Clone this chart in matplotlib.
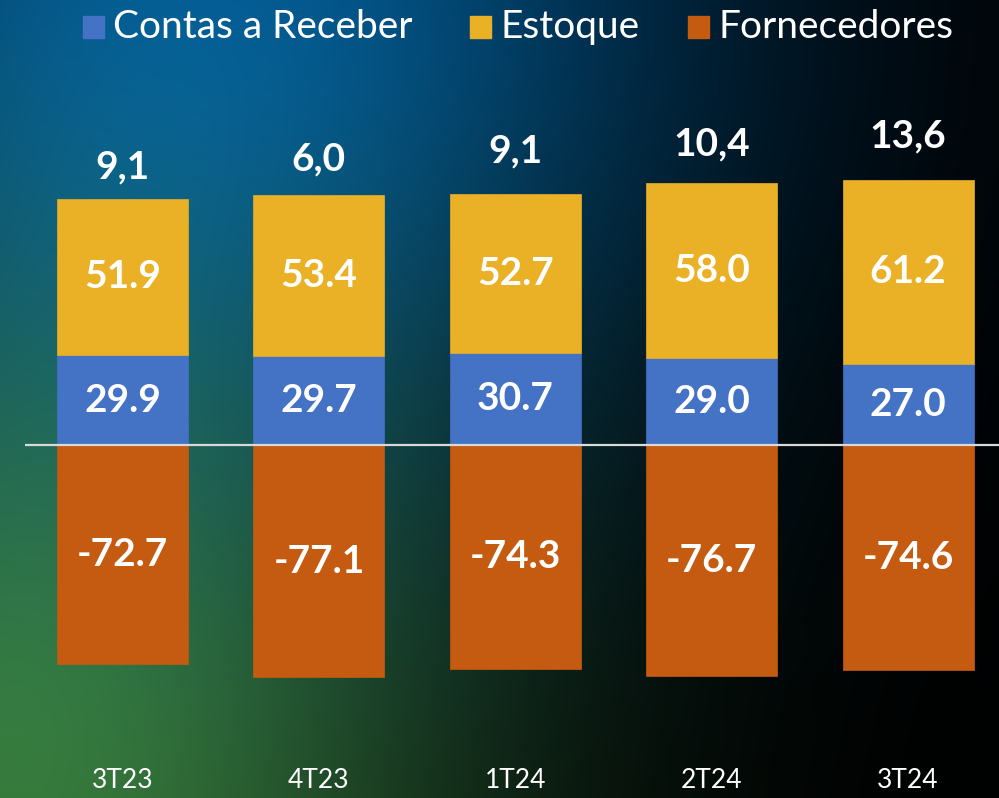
import numpy as np
import matplotlib
matplotlib.use("Agg")
import matplotlib.pyplot as plt
from matplotlib.patches import Rectangle

# ---- data ----
categories = ["3T23", "4T23", "1T24", "2T24", "3T24"]
contas_receber = [29.9, 29.7, 30.7, 29.0, 27.0]
estoque = [51.9, 53.4, 52.7, 58.0, 61.2]
fornecedores = [-72.7, -77.1, -74.3, -76.7, -74.6]
top_labels = ["9,1", "6,0", "9,1", "10,4", "13,6"]
series_names = ["Contas a Receber", "Estoque", "Fornecedores"]

# ---- style ----
c_blue = "#4472C4"
c_gold = "#EAB026"
c_orange = "#C55A11"
W, H, DPI = 999, 798, 100
plt.rcParams['font.family'] = ['Lato', 'DejaVu Sans']

fig = plt.figure(figsize=(W / DPI, H / DPI), dpi=DPI)

# background gradient
bg = fig.add_axes([0, 0, 1, 1], zorder=0)
u = np.linspace(0, 1, 400)[None, :]
v = np.linspace(0, 1, 320)[:, None]
fb = np.exp(-(((u - 0.2) / 0.5) ** 2 + (v / 0.6) ** 2))
fg = np.exp(-((u / 0.45) ** 2 + ((v - 1.0) / 0.65) ** 2))
img = (np.array([0, 85, 145])[None, None, :] * fb[..., None]
       + np.array([55, 118, 52])[None, None, :] * fg[..., None])
img = np.clip(img / 255.0, 0, 1)
bg.imshow(img, aspect='auto', extent=[0, 1, 1, 0], interpolation='bilinear')
bg.set_xlim(0, 1); bg.set_ylim(1, 0)
bg.axis('off')

ax = fig.add_axes([0, 0, 1, 1], zorder=1)
ax.patch.set_alpha(0)
ax.axis('off')
px_per_unit = 3.01
zero_px = 445
ax.set_ylim(-(H - zero_px) / px_per_unit, zero_px / px_per_unit)
ax.set_xlim(-0.624, 4.463)

x = np.arange(len(categories))
bw = 0.667
ax.bar(x, contas_receber, width=bw, color=c_blue, edgecolor=c_blue, linewidth=0.5)
ax.bar(x, estoque, width=bw, bottom=contas_receber, color=c_gold, edgecolor=c_gold, linewidth=0.5)
ax.bar(x, fornecedores, width=bw, color=c_orange, edgecolor=c_orange, linewidth=0.5)

ax.hlines(0, -0.497, 4.463, color="#D9D9D9", linewidth=1.6, zorder=5)

lab_kw = dict(color="white", fontweight="bold", fontsize=28, ha="center", va="center")
for i in range(len(categories)):
    ax.text(x[i], contas_receber[i] / 2, f"{contas_receber[i]:.1f}", **lab_kw)
    ax.text(x[i], contas_receber[i] + estoque[i] / 2, f"{estoque[i]:.1f}", **lab_kw)
    ax.text(x[i], fornecedores[i] / 2, f"{fornecedores[i]:.1f}", **lab_kw)

# top labels above bars (offset in pixels)
top_offsets_px = [14, 18, 25, 22, 26]
for i in range(len(categories)):
    total = contas_receber[i] + estoque[i]
    ax.annotate(top_labels[i], (x[i], total), xytext=(0, top_offsets_px[i] * 72 / DPI),
                textcoords="offset points", ha="center", va="bottom",
                color="white", fontweight="bold", fontsize=28)

# category labels
for i, c in enumerate(categories):
    ax.text(x[i], 1 - 780 / H, c, transform=ax.get_xaxis_transform(),
            ha="center", va="center", color="white", fontsize=19)

# legend (manual)
leg_items = [(c_blue, series_names[0], 83), (c_gold, series_names[1], 470), (c_orange, series_names[2], 688)]
for col, name, xp in leg_items:
    fig.patches.append(Rectangle((xp / W, 1 - 38 / H), 21 / W, 22 / H,
                                 transform=fig.transFigure, color=col, zorder=3))
    fig.text((xp + 30) / W, 1 - 27 / H, name, color="white", fontsize=28,
             ha="left", va="center", zorder=3)

fig.savefig("out.png", dpi=DPI)
